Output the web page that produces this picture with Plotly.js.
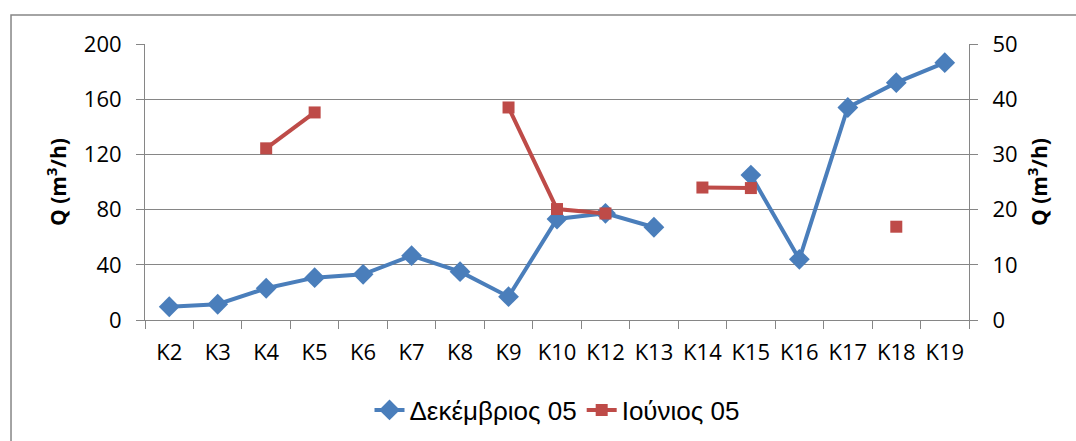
<!DOCTYPE html>
<html>
<head>
<meta charset="utf-8">
<script src="https://cdn.plot.ly/plotly-3.0.1.min.js"></script>
<style>html,body{margin:0;padding:0;background:#fff;}#chart{width:1076px;height:441px;}</style>
</head>
<body>
<div id="chart"></div>
<script>
const categories = ["K2","K3","K4","K5","K6","K7","K8","K9","K10","K12","K13","K14","K15","K16","K17","K18","K19"];
const decemberValues = [9.6, 11.4, 23, 30.7, 33.1, 46.6, 35, 16.9, 73.2, 77.3, 67.2, null, 105, 44, 154, 172, 186.5];
const juneValues = [null, null, 31.1, 37.6, null, null, null, 38.5, 20.1, 19.3, null, 24.0, 23.9, null, null, 16.9, null];
const seriesNames = ["Δεκέμβριος 05", "Ιούνιος 05"];
const leftTicks = [0, 40, 80, 120, 160, 200];
const rightTicks = [0, 10, 20, 30, 40, 50];

const gray = '#868686';
const tickFont = {family: 'Open Sans, sans-serif', size: 22, color: '#000'};
const titleFont = {family: 'Open Sans, sans-serif', size: 21, color: '#000', weight: 'bold'};

const traces = [
  {
    x: categories, y: decemberValues, name: seriesNames[0], type: 'scatter', mode: 'lines+markers',
    yaxis: 'y', connectgaps: false,
    line: {color: '#4A7EBB', width: 4},
    marker: {symbol: 'diamond', size: 16, color: '#4A7EBB'}
  },
  {
    x: categories, y: juneValues, name: seriesNames[1], type: 'scatter', mode: 'lines+markers',
    yaxis: 'y2', connectgaps: false,
    line: {color: '#BE4B48', width: 4},
    marker: {symbol: 'square', size: 12, color: '#BE4B48'}
  }
];

const layout = {
  width: 1076, height: 441,
  margin: {l: 145, r: 107, t: 44, b: 121, autoexpand: false},
  paper_bgcolor: '#fff', plot_bgcolor: '#fff',
  showlegend: true,
  legend: {orientation: 'h', x: 0.5, xanchor: 'center', y: -0.326, yanchor: 'middle',
           font: {family: 'Liberation Sans, Arial, sans-serif', size: 26, color: '#000'},
           itemwidth: 30, traceorder: 'normal'},
  xaxis: {
    type: 'category', range: [-0.5, categories.length - 0.5], autorange: false,
    tickson: 'boundaries', showgrid: false,
    ticks: 'outside', ticklen: 8, tickcolor: gray, tickwidth: 1,
    showline: true, linecolor: gray, linewidth: 1, tickangle: 0,
    tickfont: tickFont, ticklabelstandoff: 13, fixedrange: true, automargin: false
  },
  yaxis: {
    range: [0, 200], tickvals: leftTicks, ticktext: leftTicks.map(String),
    showgrid: true, gridcolor: gray, gridwidth: 1, zeroline: false,
    ticks: 'outside', ticklen: 8, tickcolor: gray,
    showline: true, linecolor: gray, linewidth: 1, automargin: false,
    tickfont: tickFont, ticklabelstandoff: 10,
    title: {text: 'Q (m<sup>3</sup>/h)', font: titleFont, standoff: 11}
  },
  yaxis2: {
    range: [0, 50], tickvals: rightTicks, ticktext: rightTicks.map(String),
    overlaying: 'y', side: 'right', showgrid: false, zeroline: false,
    ticks: 'outside', ticklen: 8, tickcolor: gray,
    showline: true, linecolor: gray, linewidth: 1, automargin: false,
    tickfont: tickFont, ticklabelstandoff: 10,
    title: {text: 'Q (m<sup>3</sup>/h)', font: titleFont, standoff: 15}
  },
  shapes: [{
    type: 'rect', xref: 'paper', yref: 'paper',
    x0: -0.1626, x1: 1.14, y0: -0.46, y1: 1.105,
    line: {color: gray, width: 1.5}, fillcolor: 'rgba(0,0,0,0)', layer: 'below'
  }]
};

Plotly.newPlot('chart', traces, layout, {displayModeBar: false, staticPlot: true});
</script>
</body>
</html>
